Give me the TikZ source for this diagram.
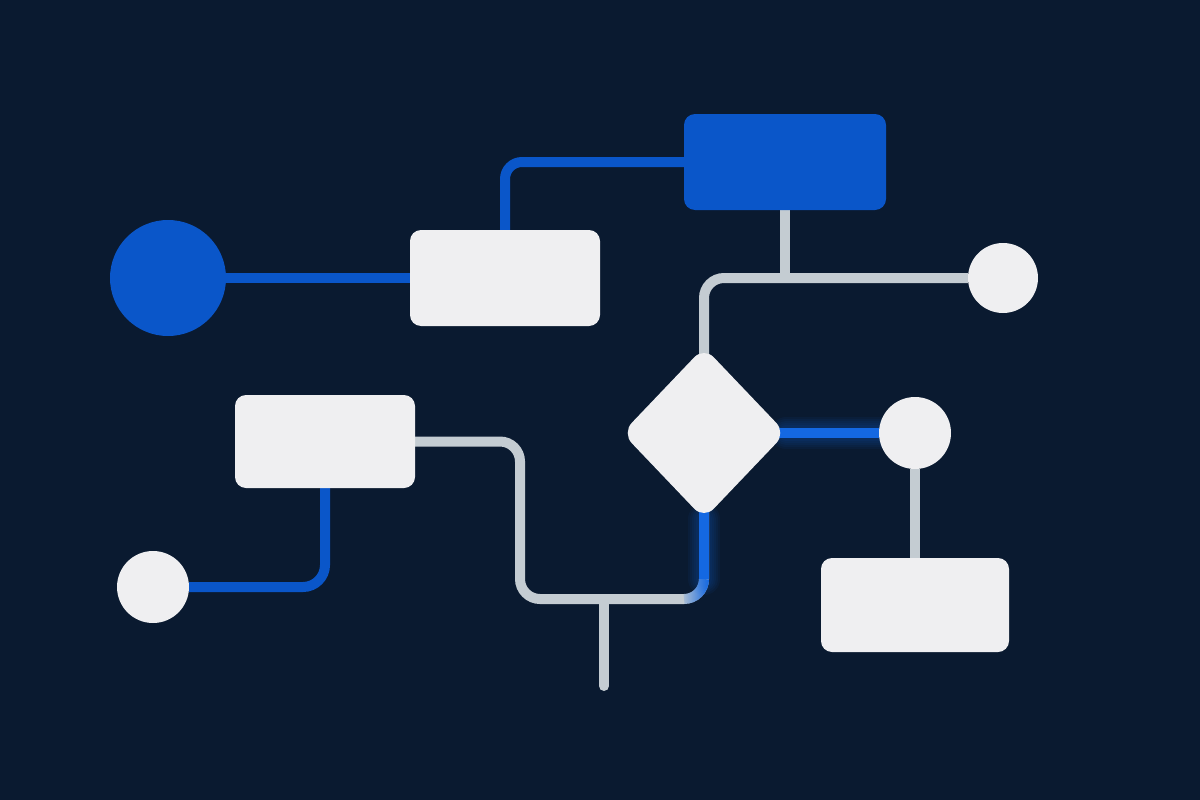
\documentclass[tikz,border=0pt]{standalone}
\usetikzlibrary{shapes.geometric,fadings}
\definecolor{bgnavy}{HTML}{0A1A30}
\definecolor{accblue}{HTML}{0A56C9}
\definecolor{brightblue}{HTML}{1468E2}
\definecolor{boxwhite}{HTML}{EFEFF1}
\definecolor{linegray}{HTML}{C4CCD2}
\pgfdeclarelayer{bglayer}
\pgfdeclarelayer{linelayer}
\pgfsetlayers{bglayer,linelayer,main}
\begin{document}
\begin{tikzpicture}[x=1pt,y=-1pt,
  wbox/.style={rectangle,rounded corners=11pt,fill=boxwhite,inner sep=0pt},
  bbox/.style={rectangle,rounded corners=11pt,fill=accblue,inner sep=0pt},
  wdot/.style={circle,fill=boxwhite,inner sep=0pt},
  bdot/.style={circle,fill=accblue,inner sep=0pt},
  decision/.style={diamond,rounded corners=14pt,fill=boxwhite,inner sep=0pt},
  blueline/.style={draw=accblue,line width=10pt},
  glowline/.style={draw=brightblue,line width=10pt},
  glowhalo/.style={draw=brightblue,line width=#1,opacity=0.06,line cap=round},
  grayline/.style={draw=linegray,line width=10pt}]
\useasboundingbox (0,0) rectangle (1200,800);
\begin{pgfonlayer}{bglayer}
  \fill[bgnavy] (0,0) rectangle (1200,800);
\end{pgfonlayer}

% nodes
\node[bdot,minimum size=116pt] (bc) at (168,278) {};
\node[wbox,minimum width=190pt,minimum height=96pt] (r1) at (505,278) {};
\node[bbox,minimum width=202pt,minimum height=96pt] (br) at (785,162) {};
\node[wdot,minimum size=70pt] (c1) at (1003,278) {};
\node[decision,minimum width=164pt,minimum height=172pt] (dm) at (704,433) {};
\node[wdot,minimum size=72pt] (c2) at (915,433) {};
\node[wbox,minimum width=188pt,minimum height=94pt] (r4) at (915,605) {};
\node[wbox,minimum width=180pt,minimum height=93pt] (r3) at (325,441.5) {};
\node[wdot,minimum size=72pt] (c3) at (153,587) {};

% helper coordinates
\coordinate (j1) at (785,278);
\coordinate (k1) at (520,599);
\coordinate (st) at (604,599);
\coordinate (sb) at (604,686);
\coordinate (bv) at (704,579);
\coordinate (bk) at (704,599);
\coordinate (bh) at (684,599);

\begin{pgfonlayer}{linelayer}
  % blue connectors
  \draw[blueline] (bc) -- (r1);
  \draw[blueline,rounded corners=17pt] (r1.north) |- (br.west);
  \draw[blueline,rounded corners=22pt] (r3.south) |- (c3.east);
  % gray connectors
  \draw[grayline] (br.south) -- (j1);
  \draw[grayline,rounded corners=20pt] (dm.center) |- (c1.west);
  \draw[grayline] (c2.south) -- (r4.north);
  \draw[grayline,rounded corners=20pt] (r3.east) -- (k1 |- r3.east) -- (k1) -- (bk) -- (dm.center);
  \draw[grayline,line cap=round] (st) -- (sb);
  % glowing blue connectors from the decision
  \foreach \w in {32pt,28pt,24pt,20pt,16pt}{
    \draw[glowhalo=\w] (dm.east) -- (c2.west);
    \draw[glowhalo=\w] (dm.south) -- (bv);
  }
  \draw[glowline] (dm.center) -- (c2.west);
  \draw[glowline] (dm.center) -- (bv);
  \draw[glowline,rounded corners=20pt,path fading=west] (bv) -- (bk) -- (bh);
\end{pgfonlayer}
\end{tikzpicture}
\end{document}
